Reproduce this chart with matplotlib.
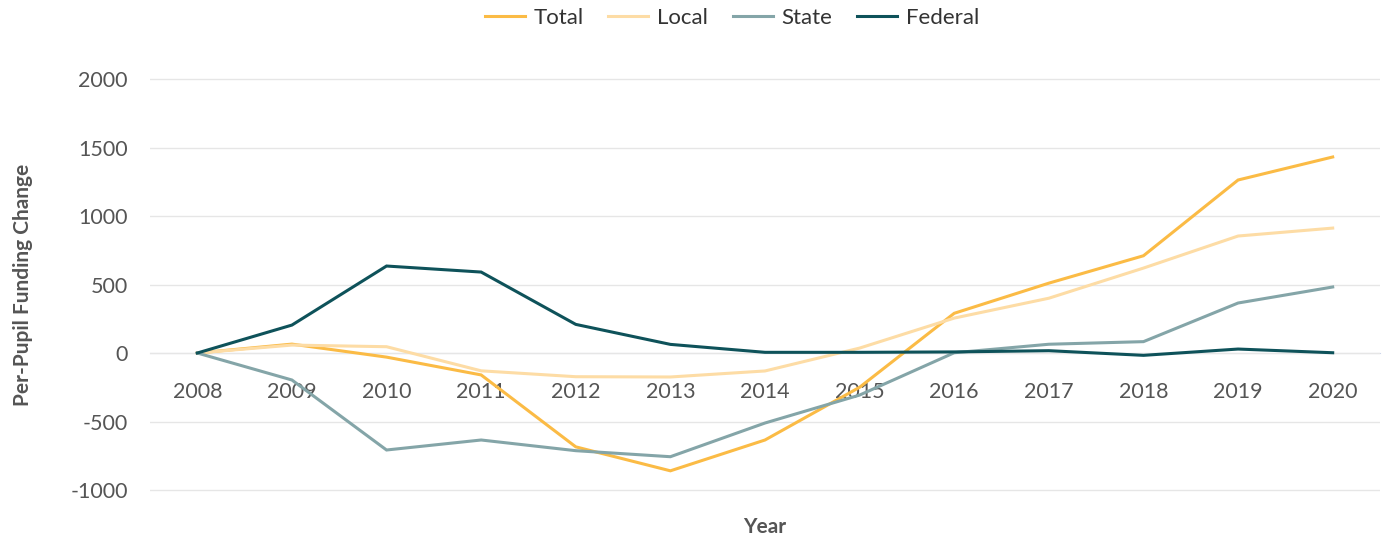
import matplotlib
matplotlib.use("Agg")
import matplotlib.pyplot as plt
import numpy as np

years = ["2008", "2009", "2010", "2011", "2012", "2013", "2014",
         "2015", "2016", "2017", "2018", "2019", "2020"]
total = [0, 65, -30, -160, -685, -860, -635, -250, 290, 510, 710, 1263, 1431]
local = [0, 58, 46, -130, -173, -175, -131, 36, 255, 400, 620, 854, 912]
state = [0, -197, -708, -635, -713, -757, -511, -307, 2, 64, 83, 365, 482]
federal = [0, 204, 635, 591, 209, 63, 5, 5, 8, 17, -17, 29, 2]

series = [("Total", total, "#fbbb45"),
          ("Local", local, "#fddca5"),
          ("State", state, "#84a5a8"),
          ("Federal", federal, "#0e525a")]

plt.rcParams['font.family'] = ['Lato', 'DejaVu Sans']
plt.rcParams['axes.unicode_minus'] = False

fig = plt.figure(figsize=(13.86, 5.42), dpi=100)
ax = fig.add_axes([150/1386, 1-510/542, 1230/1386, 450/542])

x = np.arange(len(years))
for name, vals, col in series:
    ax.plot(x, vals, color=col, lw=2.2, label=name, solid_joinstyle='miter')

ax.set_xlim(-0.5, len(years) - 0.5)
ax.set_ylim(-1146, 2139)
ax.set_yticks([-1000, -500, 0, 500, 1000, 1500, 2000])
ax.tick_params(axis='y', length=0, labelsize=15.5, labelcolor='#555555', pad=16)
ax.grid(axis='y', color='#e6e6e6', lw=1)
ax.set_axisbelow(True)

for s in ['top', 'right', 'left']:
    ax.spines[s].set_visible(False)
ax.spines['bottom'].set_position(('data', 0))
ax.spines['bottom'].set_color('#ccd6eb')
ax.spines['bottom'].set_zorder(0.5)
ax.set_xticks(x)
ax.set_xticklabels(years)
ax.tick_params(axis='x', length=0, labelsize=15.5, labelcolor='#555555', pad=21)

ax.set_ylabel("Per-Pupil Funding Change", fontsize=15, fontweight='bold',
              color='#555555', labelpad=27)
fig.text((150 + 1380) / 2 / 1386, 1 - 527 / 542, "Year", ha='center', va='center',
         fontsize=15, fontweight='bold', color='#555555')

leg = fig.legend(loc='center', bbox_to_anchor=(732 / 1386, 1 - 18 / 542), ncol=4,
                 frameon=False, fontsize=16, handlelength=1.8, columnspacing=1.1,
                 handletextpad=0.4)
for t in leg.get_texts():
    t.set_color('#333333')

fig.savefig("out.png", dpi=100)
